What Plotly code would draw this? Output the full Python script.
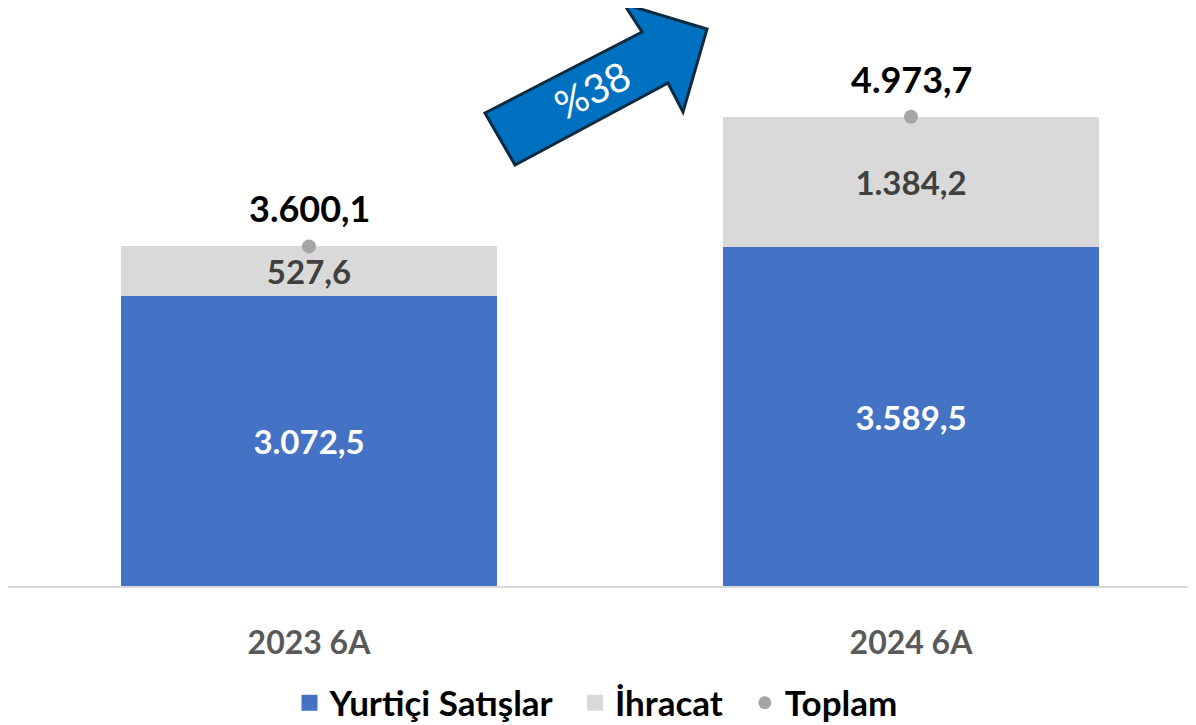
import plotly.graph_objects as go

categories = ["2023 6A", "2024 6A"]
yurtici = [3072.5, 3589.5]
ihracat = [527.6, 1384.2]
toplam = [3600.1, 4973.7]
yurtici_labels = ["3.072,5", "3.589,5"]
ihracat_labels = ["527,6", "1.384,2"]
toplam_labels = ["3.600,1", "4.973,7"]
series_names = ["Yurtiçi Satışlar", "İhracat", "Toplam"]
growth_label = "%38"

BLUE, GRAY, DOT = "#4472C4", "#D9D9D9", "#A5A5A5"

# page offset of the plot div (default body margin)
OFF = 8
W, H = 1196 - OFF, 725 - OFF
ML, MR, MT, MB = 0, 0, 20 - OFF, 725 - 586
PW, PH = W - ML - MR, H - MT - MB

def px2paper(px, py):
    # page pixel coords -> paper coords
    fx, fy = px - OFF, py - OFF
    return (fx - ML) / PW, (H - MB - fy) / PH

FONT = "Lato"
NBSP = "\u00a0"

fig = go.Figure()
fig.add_trace(go.Bar(
    x=categories, y=yurtici, name=series_names[0], showlegend=False,
    marker=dict(color=BLUE, line=dict(width=0)),
    text=yurtici_labels, textposition="inside", insidetextanchor="middle",
    textfont=dict(family=FONT, size=33, color="white", weight="bold"),
    width=0.6246, hoverinfo="skip",
))
fig.add_trace(go.Bar(
    x=categories, y=ihracat, name=series_names[1], showlegend=False,
    marker=dict(color=GRAY, line=dict(width=0)),
    text=ihracat_labels, textposition="inside", insidetextanchor="middle",
    textfont=dict(family=FONT, size=33, color="#404040", weight="bold"),
    width=0.6246, hoverinfo="skip",
))
fig.add_trace(go.Scatter(
    x=categories, y=toplam, name=series_names[2], mode="markers", showlegend=False,
    marker=dict(color=DOT, size=14), hoverinfo="skip",
))

# legend entries (larger symbols than plotly's bar legend glyphs)
for i, (name, color, sym, sz) in enumerate(zip(series_names, [BLUE, GRAY, DOT],
                                               ["square", "square", "circle"], [20, 20, 13])):
    pad = NBSP * 2 if i < 2 else ""
    fig.add_trace(go.Scatter(x=[None], y=[None], mode="markers", name=name + pad,
                             marker=dict(color=color, symbol=sym, size=sz)))

for c, v, t in zip(categories, toplam, toplam_labels):
    fig.add_annotation(x=c, y=v, text=t, showarrow=False, yshift=38,
                       font=dict(family=FONT, size=36, color="black", weight="bold"))

# decorative growth arrow (page pixel outline)
pts = [(485, 113), (642, 32), (624, 4), (707, 29), (683, 112), (668, 83), (515, 165)]
pp = [px2paper(x, y) for x, y in pts]
path = "M " + " L ".join(f"{x:.5f},{y:.5f}" for x, y in pp) + " Z"
fig.add_shape(type="path", path=path, xref="paper", yref="paper",
              fillcolor="#0070C0", line=dict(color="#0D2B3E", width=3), layer="below")
tx, ty = px2paper(592, 90)
fig.add_annotation(x=tx, y=ty, xref="paper", yref="paper", text=growth_label,
                   showarrow=False, textangle=-27, xanchor="center", yanchor="middle",
                   font=dict(family=FONT, size=40, color="white"))

fig.update_layout(
    width=W, height=H, barmode="stack",
    margin=dict(l=ML, r=MR, t=MT, b=MB, autoexpand=False),
    paper_bgcolor="white", plot_bgcolor="white",
    showlegend=True,
    legend=dict(orientation="h", x=px2paper(596, 0)[0], xanchor="center",
                y=px2paper(0, 703)[1], yanchor="middle", traceorder="normal",
                font=dict(family=FONT, size=35, color="black", weight="bold"),
                itemsizing="trace"),
    xaxis=dict(range=[-0.5, 1.4734], showline=True, linecolor=GRAY, linewidth=2,
               showgrid=False, zeroline=False, ticks="", ticklabelstandoff=28,
               tickfont=dict(family=FONT, size=32, color="#595959", weight="bold"),
               fixedrange=True),
    yaxis=dict(range=[0, 6000], visible=False, showgrid=False, zeroline=False, fixedrange=True),
)

fig.write_html("out.html")
